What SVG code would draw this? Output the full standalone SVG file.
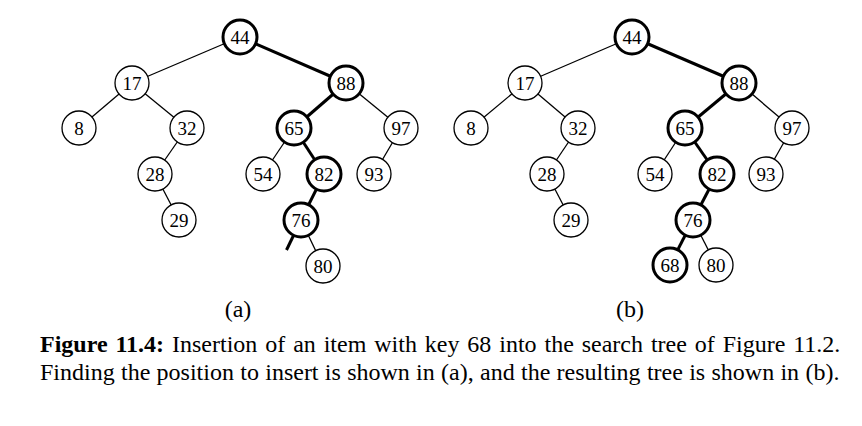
<svg xmlns="http://www.w3.org/2000/svg" width="862" height="426" viewBox="0 0 862 426">
<style>
.e{stroke:#000;stroke-width:1.3;fill:none}
.eb{stroke:#000;stroke-width:3;fill:none}
.n circle{fill:#fff;stroke:#000;stroke-width:1.3}
.n.b circle{stroke-width:3}
.n text{font-family:"Liberation Serif",serif;font-size:19px;text-anchor:middle;dominant-baseline:central}
.cap{font-family:"Liberation Serif",serif;font-size:24px}
</style>
<g id="connectors">
<line class="e" x1="240" y1="37" x2="132" y2="83"/>
<line class="eb" x1="240" y1="37" x2="346" y2="83"/>
<line class="e" x1="132" y1="83" x2="79" y2="128"/>
<line class="e" x1="132" y1="83" x2="187" y2="128"/>
<line class="eb" x1="346" y1="83" x2="294" y2="128"/>
<line class="e" x1="346" y1="83" x2="401" y2="128"/>
<line class="e" x1="187" y1="128" x2="155" y2="174"/>
<line class="e" x1="155" y1="174" x2="179" y2="220"/>
<line class="e" x1="294" y1="128" x2="263" y2="174"/>
<line class="eb" x1="294" y1="128" x2="324" y2="174"/>
<line class="e" x1="401" y1="128" x2="374" y2="174"/>
<line class="eb" x1="324" y1="174" x2="301" y2="220"/>
<line class="e" x1="301" y1="220" x2="323" y2="266"/>
<line class="eb" x1="301" y1="220" x2="286.5" y2="250"/>
<line class="e" x1="632" y1="37" x2="525" y2="83"/>
<line class="eb" x1="632" y1="37" x2="739" y2="83"/>
<line class="e" x1="525" y1="83" x2="471" y2="128"/>
<line class="e" x1="525" y1="83" x2="578" y2="128"/>
<line class="eb" x1="739" y1="83" x2="685" y2="128"/>
<line class="e" x1="739" y1="83" x2="792" y2="128"/>
<line class="e" x1="578" y1="128" x2="547" y2="174"/>
<line class="e" x1="547" y1="174" x2="571" y2="220"/>
<line class="e" x1="685" y1="128" x2="655" y2="174"/>
<line class="eb" x1="685" y1="128" x2="717" y2="174"/>
<line class="e" x1="792" y1="128" x2="766" y2="174"/>
<line class="eb" x1="717" y1="174" x2="693" y2="220"/>
<line class="eb" x1="693" y1="220" x2="670" y2="265"/>
<line class="e" x1="693" y1="220" x2="716" y2="265"/>
</g>
<g id="a44" class="n b" transform="translate(240,37)"><circle r="17"/><text>44</text></g>
<g id="a17" class="n" transform="translate(132,83)"><circle r="17"/><text>17</text></g>
<g id="a88" class="n b" transform="translate(346,83)"><circle r="17"/><text>88</text></g>
<g id="a8" class="n" transform="translate(79,128)"><circle r="17"/><text>8</text></g>
<g id="a32" class="n" transform="translate(187,128)"><circle r="17"/><text>32</text></g>
<g id="a65" class="n b" transform="translate(294,128)"><circle r="17"/><text>65</text></g>
<g id="a97" class="n" transform="translate(401,128)"><circle r="17"/><text>97</text></g>
<g id="a28" class="n" transform="translate(155,174)"><circle r="17"/><text>28</text></g>
<g id="a54" class="n" transform="translate(263,174)"><circle r="17"/><text>54</text></g>
<g id="a82" class="n b" transform="translate(324,174)"><circle r="17"/><text>82</text></g>
<g id="a93" class="n" transform="translate(374,174)"><circle r="17"/><text>93</text></g>
<g id="a29" class="n" transform="translate(179,220)"><circle r="17"/><text>29</text></g>
<g id="a76" class="n b" transform="translate(301,220)"><circle r="17"/><text>76</text></g>
<g id="a80" class="n" transform="translate(323,266)"><circle r="17"/><text>80</text></g>
<g id="b44" class="n b" transform="translate(632,37)"><circle r="17"/><text>44</text></g>
<g id="b17" class="n" transform="translate(525,83)"><circle r="17"/><text>17</text></g>
<g id="b88" class="n b" transform="translate(739,83)"><circle r="17"/><text>88</text></g>
<g id="b8" class="n" transform="translate(471,128)"><circle r="17"/><text>8</text></g>
<g id="b32" class="n" transform="translate(578,128)"><circle r="17"/><text>32</text></g>
<g id="b65" class="n b" transform="translate(685,128)"><circle r="17"/><text>65</text></g>
<g id="b97" class="n" transform="translate(792,128)"><circle r="17"/><text>97</text></g>
<g id="b28" class="n" transform="translate(547,174)"><circle r="17"/><text>28</text></g>
<g id="b54" class="n" transform="translate(655,174)"><circle r="17"/><text>54</text></g>
<g id="b82" class="n b" transform="translate(717,174)"><circle r="17"/><text>82</text></g>
<g id="b93" class="n" transform="translate(766,174)"><circle r="17"/><text>93</text></g>
<g id="b29" class="n" transform="translate(571,220)"><circle r="17"/><text>29</text></g>
<g id="b76" class="n b" transform="translate(693,220)"><circle r="17"/><text>76</text></g>
<g id="b68" class="n b" transform="translate(670,265)"><circle r="17"/><text>68</text></g>
<g id="b80" class="n" transform="translate(716,265)"><circle r="17"/><text>80</text></g>
<text class="cap" x="238" y="317" text-anchor="middle">(a)</text>
<text class="cap" x="630" y="317" text-anchor="middle">(b)</text>
<text class="cap" x="40" y="352" word-spacing="1.9"><tspan font-weight="bold">Figure 11.4:</tspan> Insertion of an item with key 68 into the search tree of Figure 11.2.</text>
<text class="cap" x="40" y="380" word-spacing="0.3">Finding the position to insert is shown in (a), and the resulting tree is shown in (b).</text>
</svg>
